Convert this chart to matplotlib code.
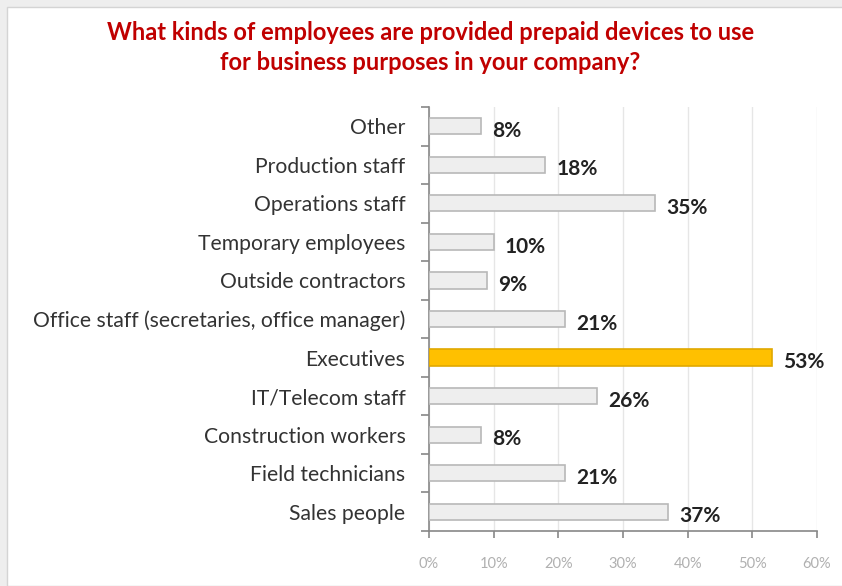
import matplotlib.pyplot as plt
from matplotlib.patches import Rectangle

# data (bottom to top, as drawn)
categories = ["Sales people", "Field technicians", "Construction workers",
              "IT/Telecom staff", "Executives",
              "Office staff (secretaries, office manager)",
              "Outside contractors", "Temporary employees",
              "Operations staff", "Production staff", "Other"]
values = [37, 21, 8, 26, 53, 21, 9, 10, 35, 18, 8]
highlight = "Executives"
x_ticks = [0, 10, 20, 30, 40, 50, 60]

plt.rcParams['font.family'] = ['Lato', 'DejaVu Sans']

fig = plt.figure(figsize=(8.42, 5.86), dpi=100, facecolor="#eeeeee")
# white panel of the screenshot, gray strips on top and left
fig.patches.append(Rectangle((7 / 842, 0), 1, 1 - 7 / 586, transform=fig.transFigure,
                             facecolor="white", edgecolor="#d4d4d4", linewidth=1, zorder=-10))

ax = fig.add_axes([0.5095, 0.0939, 0.4608, 0.7235])
ax.set_facecolor("none")

colors = ["#ffc000" if c == highlight else "#eeeeee" for c in categories]
edges = ["#e0a800" if c == highlight else "#b8b8b8" for c in categories]
ypos = list(range(len(categories)))
ax.barh(ypos, values, height=0.42, color=colors, edgecolor=edges, linewidth=1.2, zorder=3)

for y, v in zip(ypos, values):
    ax.text(v + 1.7, y - 0.12, f"{v}%", va="center", ha="left",
            fontsize=15, fontweight="bold", color="#222222")

ax.set_xlim(0, 60)
ax.set_ylim(-0.5, len(categories) - 0.5)
ax.set_xticks(x_ticks)
ax.set_xticklabels([f"{t}%" for t in x_ticks], fontsize=10.5, color="#b0b0b0")
ax.tick_params(axis="x", length=5, width=1.2, color="#888888", pad=14, direction="out")

ax.set_yticks(ypos)
ax.set_yticklabels(categories, fontsize=15.2, color="#333333")
ax.tick_params(axis="y", length=0, pad=17)
# category boundary ticks
ax.set_yticks([y - 0.5 for y in range(len(categories) + 1)], minor=True)
ax.tick_params(axis="y", which="minor", length=6, width=1.2, color="#888888", direction="out")

ax.grid(axis="x", color="#e6e6e6", linewidth=1, zorder=0)
for s in ["top", "right"]:
    ax.spines[s].set_visible(False)
for s in ["left", "bottom"]:
    ax.spines[s].set_color("#888888")
    ax.spines[s].set_linewidth(1.2)

fig.text(0.511, 0.945, "What kinds of employees are provided prepaid devices to use",
         ha="center", va="center", fontsize=17, fontweight="bold", color="#c00000")
fig.text(0.511, 0.893, "for business purposes in your company?",
         ha="center", va="center", fontsize=17, fontweight="bold", color="#c00000")

fig.savefig("out.png", dpi=100, facecolor=fig.get_facecolor())
